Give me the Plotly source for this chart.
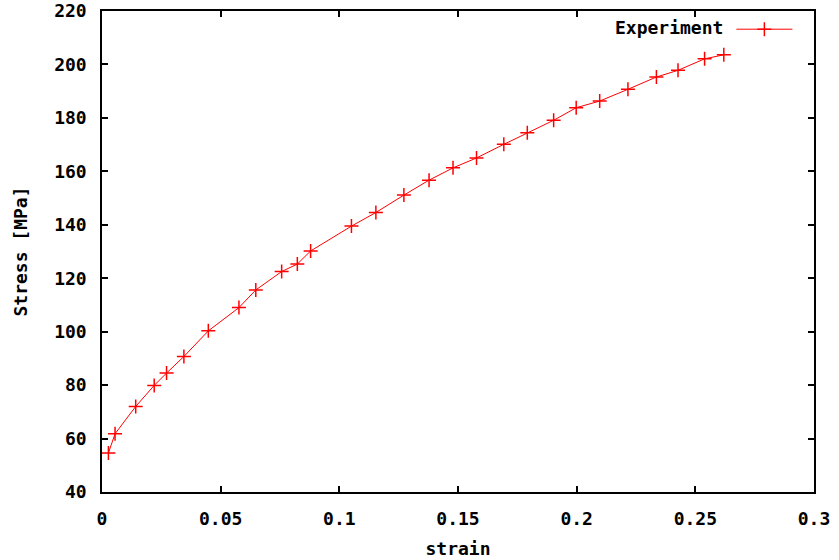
import plotly.graph_objects as go

strain = [0.0027, 0.0055, 0.0142, 0.0220, 0.0272, 0.0345, 0.0448, 0.0577, 0.0648,
          0.0757, 0.0823, 0.0879, 0.1051, 0.1154, 0.1272, 0.1378, 0.1479, 0.1578,
          0.1693, 0.1792, 0.1903, 0.1998, 0.2097, 0.2216, 0.2336, 0.2427, 0.2539, 0.2620]
stress = [54.6, 61.8, 72.0, 79.9, 84.5, 90.7, 100.3, 109.0, 115.6,
          122.5, 125.3, 130.2, 139.5, 144.6, 151.1, 156.7, 161.3, 165.0,
          170.1, 174.4, 179.1, 183.8, 186.3, 190.7, 195.3, 197.8, 202.1, 203.6]

x_ticks = [0, 0.05, 0.1, 0.15, 0.2, 0.25, 0.3]
x_labels = ["0", "0.05", "0.1", "0.15", "0.2", "0.25", "0.3"]
y_ticks = [40, 60, 80, 100, 120, 140, 160, 180, 200, 220]

FONT = "DejaVu Sans Mono"
FS = 18

fig = go.Figure()
fig.add_trace(go.Scatter(
    x=strain, y=stress, mode="lines+markers", name=" ",
    line=dict(color="#ff0000", width=1),
    marker=dict(symbol="cross-thin", size=10, line=dict(color="#ff0000", width=1.5)),
))

axis_common = dict(
    showgrid=False, zeroline=False, showline=True, linecolor="black", linewidth=1.5,
    mirror="ticks", ticks="inside", ticklen=6, tickcolor="black", tickwidth=1.5,
    automargin=False, ticklabeloverflow="allow",
    tickfont=dict(family=FONT, size=FS, color="black", weight="bold"),
)

fig.update_layout(
    width=839, height=560,
    margin=dict(l=102, r=25, t=11, b=68),
    plot_bgcolor="white", paper_bgcolor="white",
    font=dict(family=FONT, size=FS, color="black", weight="bold"),
    xaxis=dict(range=[0, 0.3], tickvals=x_ticks, ticktext=x_labels,
               ticklabelstandoff=10,
               title=dict(text="strain", standoff=14,
                          font=dict(family=FONT, size=FS, weight="bold")),
               **axis_common),
    yaxis=dict(range=[40, 220], tickvals=y_ticks, ticklabelstandoff=10,
               title=dict(text="Stress [MPa]", standoff=22,
                          font=dict(family=FONT, size=FS, weight="bold")),
               **axis_common),
    legend=dict(
        x=1.0, y=1.0, xanchor="right", yanchor="top",
        bgcolor="rgba(0,0,0,0)", borderwidth=0,
        itemwidth=56,
        title=dict(text="Experiment", side="left",
                   font=dict(family=FONT, size=FS, weight="bold")),
        font=dict(family=FONT, size=FS, weight="bold"),
    ),
    showlegend=True,
)

fig.write_html("out.html")
